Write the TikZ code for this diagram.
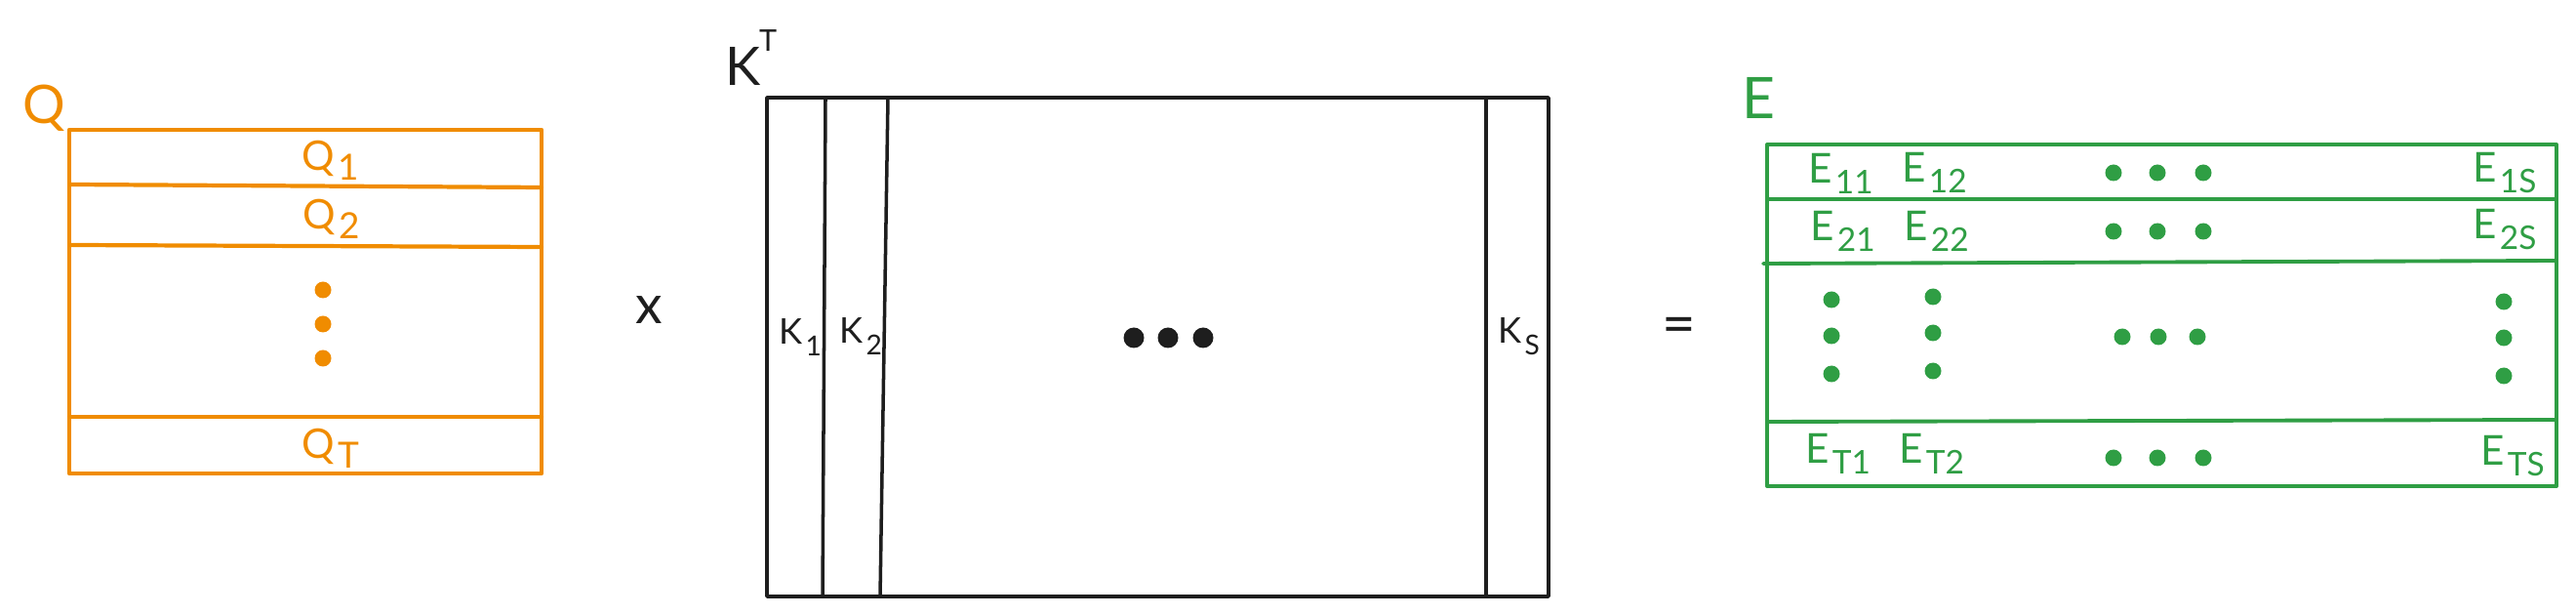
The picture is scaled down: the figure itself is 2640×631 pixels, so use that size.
\documentclass[tikz,border=0pt]{standalone}
\usepackage{fontspec}
\setmainfont{Lato}
\definecolor{qorange}{HTML}{F08C00}
\definecolor{egreen}{HTML}{2F9E44}
\definecolor{kblack}{HTML}{1E1E1E}
% letter with a lowered index
\newcommand{\sublabel}[5]{{\fontsize{#1}{#1}\selectfont #4}\kern0.8pt\raisebox{-#3}{\fontsize{#2}{#2}\selectfont #5}}
\newcommand{\qlab}[1]{\sublabel{11.9pt}{10.5pt}{2.6pt}{Q}{#1}}
\newcommand{\klab}[1]{\sublabel{10.3pt}{8pt}{3.4pt}{K}{#1}}
\newcommand{\elab}[1]{\sublabel{12pt}{9.5pt}{3.1pt}{E}{#1}}

\begin{document}
\begin{tikzpicture}[x=0.01cm,y=-0.01cm,line cap=round,line join=round,
  qline/.style={draw=qorange,line width=1.2pt},
  kline/.style={draw=kblack,line width=1pt},
  eline/.style={draw=egreen,line width=1.1pt},
  lbl/.style={inner sep=0pt,anchor=base west}]
  \useasboundingbox (0,0) rectangle (2640,631);
  % Q
  \draw[qline] (71,133) rectangle (555,485);
  \draw[qline] (73,189) -- (555,192);
  \draw[qline] (73,251) -- (555,253);
  \draw[qline] (71,427) -- (555,427);
  \node[lbl,text=qorange] (q) at (23,127) {\fontsize{15.5pt}{15.5pt}\selectfont Q};
  \node[lbl,text=qorange] (q1) at (309,175) {\qlab{1}};
  \node[lbl,text=qorange] (q2) at (310,235) {\qlab{2}};
  \node[lbl,text=qorange] (qT) at (309,470) {\qlab{T}};
  \foreach \y in {297,332,367} \fill[qorange] (331,\y) circle (8.5);
  \node[anchor=base,text=kblack] (times) at (665,332) {\fontsize{15.7pt}{15.7pt}\selectfont x};
  % K transposed
  \draw[kline] (786,100) rectangle (1587,611);
  \draw[kline] (846,100) -- (843,611);
  \draw[kline] (910,100) -- (902,611);
  \draw[kline] (1523,100) -- (1523,611);
  \node[lbl,text=kblack] (kt) at (743,88) {\fontsize{15.5pt}{15.5pt}\selectfont K\kern-0.5pt\raisebox{10.2pt}{\fontsize{8.7pt}{8.7pt}\selectfont T}};
  \node[lbl,text=kblack] (k1) at (798,353) {\klab{1}};
  \node[lbl,text=kblack] (k2) at (860,352) {\klab{2}};
  \node[lbl,text=kblack] (kS) at (1535,352) {\klab{S}};
  \foreach \x in {1162,1197,1233} \fill[kblack] (\x,346) circle (10.5);
  \node[text=kblack] (eq) at (1721,339) {\fontsize{17pt}{17pt}\selectfont =};
  % E
  \draw[eline] (1811,148) rectangle (2620,498);
  \draw[eline] (1811,204) -- (2620,204);
  \draw[eline] (1807,270) -- (2620,267);
  \draw[eline] (1811,432) -- (2620,430);
  \node[lbl,text=egreen] (e) at (1785,122) {\fontsize{16.7pt}{16.7pt}\selectfont E};
  \node[lbl,text=egreen] (e11) at (1853,188) {\elab{11}};
  \node[lbl,text=egreen] (e12) at (1949,187) {\elab{12}};
  \node[lbl,text=egreen] (e1S) at (2534,187) {\elab{1S}};
  \node[lbl,text=egreen] (e21) at (1855,247) {\elab{21}};
  \node[lbl,text=egreen] (e22) at (1951,247) {\elab{22}};
  \node[lbl,text=egreen] (e2S) at (2534,245) {\elab{2S}};
  \node[lbl,text=egreen] (eT1) at (1850,475) {\elab{T1}};
  \node[lbl,text=egreen] (eT2) at (1946,475) {\elab{T2}};
  \node[lbl,text=egreen] (eTS) at (2542,477) {\elab{TS}};
  \foreach \x in {2166,2211,2258} {
    \fill[egreen] (\x,177) circle (8.5);
    \fill[egreen] (\x,237) circle (8.5);
    \fill[egreen] (\x,469) circle (8.5);
  }
  \foreach \y in {307,344,383} \fill[egreen] (1877,\y) circle (8.5);
  \foreach \y in {304,341,380} \fill[egreen] (1981,\y) circle (8.5);
  \foreach \y in {309,346,385} \fill[egreen] (2566,\y) circle (8.5);
  \foreach \x in {2175,2212,2252} \fill[egreen] (\x,345) circle (8.5);
\end{tikzpicture}
\end{document}
